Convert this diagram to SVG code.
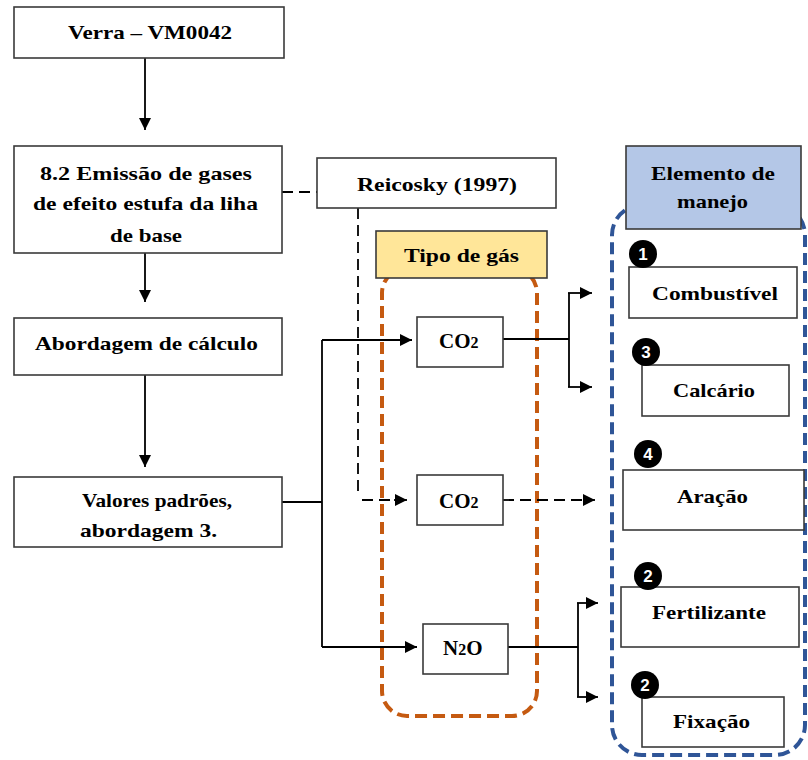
<svg xmlns="http://www.w3.org/2000/svg" width="808" height="760" viewBox="0 0 808 760">
<style>
.box{fill:#fff;stroke:#3a3a3a;stroke-width:1.6}
.t{font-family:"Liberation Serif","Times New Roman",serif;font-weight:bold;font-size:19px;fill:#000}
.g{font-size:21px}
.sub{font-size:16px}
.ln{fill:none;stroke:#000;stroke-width:1.8}
.dash{fill:none;stroke:#000;stroke-width:1.8;stroke-dasharray:11 6}
.badge{fill:#000}
.bt{font-family:"Liberation Sans",Arial,sans-serif;font-weight:bold;font-size:17px;fill:#fff;text-anchor:middle}
</style>
<defs>
<marker id="ah" viewBox="0 0 12 12" refX="12" refY="6" markerWidth="12" markerHeight="12" markerUnits="userSpaceOnUse" orient="auto">
<path d="M0,0 L12,6 L0,12 Z" fill="#000"/>
</marker>
</defs>

<g id="group-orange">
<rect x="382" y="268" width="155" height="448" rx="25" fill="none" stroke="#C55A11" stroke-width="4" stroke-dasharray="12 6"/>
</g>
<g id="group-blue">
<rect x="612" y="205" width="193" height="550" rx="30" fill="none" stroke="#2F5597" stroke-width="4" stroke-dasharray="12 6"/>
</g>

<g id="connectors">
<line class="ln" x1="145" y1="58" x2="145" y2="130" marker-end="url(#ah)"/>
<line class="ln" x1="145" y1="253" x2="145" y2="302" marker-end="url(#ah)"/>
<line class="ln" x1="145" y1="375" x2="145" y2="467" marker-end="url(#ah)"/>
<line class="dash" x1="282" y1="192" x2="317" y2="192"/>
<polyline class="dash" points="358,208 358,497"/>
<line class="dash" x1="362" y1="500" x2="395" y2="500"/>
<line class="ln" x1="394" y1="500" x2="407" y2="500" marker-end="url(#ah)"/>
<polyline class="ln" points="282,502 322,502"/>
<polyline class="ln" points="322,340 322,647"/>
<line class="ln" x1="322" y1="340" x2="412" y2="340" marker-end="url(#ah)"/>
<line class="ln" x1="322" y1="647" x2="417" y2="647" marker-end="url(#ah)"/>
<polyline class="ln" points="503,339 569,339"/>
<polyline class="ln" points="569,293 569,387"/>
<line class="ln" x1="568" y1="293" x2="592" y2="293" marker-end="url(#ah)"/>
<line class="ln" x1="568" y1="387" x2="592" y2="387" marker-end="url(#ah)"/>
<line class="dash" x1="503" y1="500" x2="585" y2="500"/>
<line class="ln" x1="583" y1="500" x2="595" y2="500" marker-end="url(#ah)"/>
<polyline class="ln" points="508,647 578,647"/>
<polyline class="ln" points="578,603 578,697"/>
<line class="ln" x1="577" y1="603" x2="598" y2="603" marker-end="url(#ah)"/>
<line class="ln" x1="577" y1="697" x2="598" y2="697" marker-end="url(#ah)"/>
</g>

<g id="node-verra">
<rect class="box" x="14" y="7" width="270" height="51"/>
<text class="t" x="68" y="39" textLength="164" lengthAdjust="spacingAndGlyphs">Verra – VM0042</text>
</g>
<g id="node-emissao">
<rect class="box" x="14" y="146" width="268" height="107"/>
<text class="t" x="40" y="180" textLength="212" lengthAdjust="spacingAndGlyphs">8.2 Emissão de gases</text>
<text class="t" x="33" y="210" textLength="225" lengthAdjust="spacingAndGlyphs">de efeito estufa da liha</text>
<text class="t" x="110" y="242" textLength="72" lengthAdjust="spacingAndGlyphs">de base</text>
</g>
<g id="node-abordagem">
<rect class="box" x="14" y="318" width="268" height="57"/>
<text class="t" x="35" y="350" textLength="223" lengthAdjust="spacingAndGlyphs">Abordagem de cálculo</text>
</g>
<g id="node-valores">
<rect class="box" x="14" y="477" width="268" height="70"/>
<text class="t" x="82" y="507" textLength="150" lengthAdjust="spacingAndGlyphs">Valores padrões,</text>
<text class="t" x="80" y="537" textLength="137" lengthAdjust="spacingAndGlyphs">abordagem 3.</text>
</g>
<g id="node-reicosky">
<rect class="box" x="317" y="158" width="239" height="50"/>
<text class="t" x="357" y="191" textLength="160" lengthAdjust="spacingAndGlyphs">Reicosky (1997)</text>
</g>
<g id="node-tipo">
<rect x="376" y="231" width="171" height="47" fill="#FFE699" stroke="#3a3a3a" stroke-width="1.6"/>
<text class="t" x="404" y="262" textLength="115" lengthAdjust="spacingAndGlyphs">Tipo de gás</text>
</g>
<g id="node-co2a">
<rect class="box" x="417" y="317" width="86" height="50"/>
<text class="t g" x="439" y="348">CO<tspan class="sub">2</tspan></text>
</g>
<g id="node-co2b">
<rect class="box" x="417" y="475" width="86" height="50"/>
<text class="t g" x="439" y="508">CO<tspan class="sub">2</tspan></text>
</g>
<g id="node-n2o">
<rect class="box" x="423" y="624" width="85" height="50"/>
<text class="t g" x="443" y="655">N<tspan class="sub">2</tspan>O</text>
</g>
<g id="node-elemento">
<rect x="626" y="146" width="175" height="83" fill="#B4C7E7" stroke="#3a3a3a" stroke-width="1.6"/>
<text class="t" x="651" y="180" textLength="124" lengthAdjust="spacingAndGlyphs">Elemento de</text>
<text class="t" x="677" y="208" textLength="71" lengthAdjust="spacingAndGlyphs">manejo</text>
</g>
<g id="node-combustivel">
<rect class="box" x="629" y="267" width="168" height="51"/>
<text class="t" x="652" y="300" textLength="126" lengthAdjust="spacingAndGlyphs">Combustível</text>
<circle class="badge" cx="643" cy="254" r="14"/>
<text class="bt" x="643" y="260">1</text>
</g>
<g id="node-calcario">
<rect class="box" x="642" y="365" width="147" height="51"/>
<text class="t" x="673" y="397" textLength="82" lengthAdjust="spacingAndGlyphs">Calcário</text>
<circle class="badge" cx="646" cy="352" r="14"/>
<text class="bt" x="646" y="358">3</text>
</g>
<g id="node-aracao">
<rect class="box" x="623" y="470" width="181" height="60"/>
<text class="t" x="677" y="503" textLength="71" lengthAdjust="spacingAndGlyphs">Aração</text>
<circle class="badge" cx="648" cy="454" r="14"/>
<text class="bt" x="648" y="460">4</text>
</g>
<g id="node-fertilizante">
<rect class="box" x="621" y="587" width="178" height="60"/>
<text class="t" x="652" y="619" textLength="114" lengthAdjust="spacingAndGlyphs">Fertilizante</text>
<circle class="badge" cx="648" cy="576" r="14"/>
<text class="bt" x="648" y="582">2</text>
</g>
<g id="node-fixacao">
<rect class="box" x="642" y="697" width="142" height="50"/>
<text class="t" x="673" y="728" textLength="77" lengthAdjust="spacingAndGlyphs">Fixação</text>
<circle class="badge" cx="645" cy="685" r="14"/>
<text class="bt" x="645" y="691">2</text>
</g>
</svg>
